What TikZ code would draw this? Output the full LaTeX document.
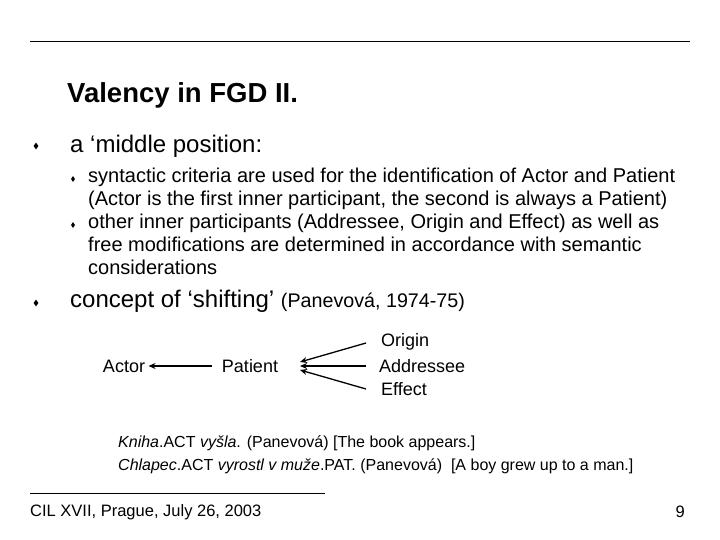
\documentclass[tikz,border=0pt]{standalone}
\usepackage{fontspec}
\setmainfont{Liberation Sans}
\usetikzlibrary{shapes.geometric,arrows.meta}
\begin{document}
\begin{tikzpicture}[x=1pt,y=-1pt,
  txt/.style={anchor=west,inner sep=0pt},
  bul/.style={diamond,fill=black,inner sep=0pt,minimum width=5pt,minimum height=7pt},
  sbul/.style={diamond,fill=black,inner sep=0pt,minimum width=4pt,minimum height=6pt},
  arr/.style={-{Stealth[length=7pt,width=6pt]},line width=1.3pt}]
\useasboundingbox (0,0) rectangle (720,540);
\draw[line width=1pt] (30,42) coordinate (tl) -- (690,42) coordinate (tr);
\draw[line width=1pt] (30,493) coordinate (bl) -- (325,493) coordinate (br);
\node[txt,font=\bfseries\fontsize{27.5}{30}\selectfont] (title) at (67,95) {Valency in FGD II.};
\node[bul] (b1) at (36,146) {};
\node[txt,font=\fontsize{24}{28}\selectfont] (t1) at (70,146) {a ‘middle position:};
\begin{scope}[font=\fontsize{20}{23}\selectfont]
\node[sbul] (s1) at (73,179) {};
\node[txt,align=left,anchor=north west] (t2) at (88,168) {syntactic criteria are used for the identification of Actor and Patient\\(Actor is the first inner participant, the second is always a Patient)};
\node[sbul] (s2) at (73,225) {};
\node[txt,align=left,anchor=north west] (t3) at (88,214) {other inner participants (Addressee, Origin and Effect) as well as\\free modifications are determined in accordance with semantic\\considerations};
\end{scope}
\node[bul] (b2) at (36,303) {};
\node[txt] (t4) at (70,301) {\fontsize{24}{28}\selectfont concept of ‘shifting’ \fontsize{19.7}{24}\selectfont(Panevová, 1974-75)};
\begin{scope}[font=\fontsize{18}{21}\selectfont]
\node (act) at (124,366) {Actor};
\node (pat) at (250,366) {Patient};
\node[txt] (ori) at (381,342) {Origin};
\node[txt] (add) at (379,366) {Addressee};
\node[txt] (eff) at (381,389) {Effect};
\end{scope}
\coordinate (p1) at (300,362);
\coordinate (p2) at (300,366);
\coordinate (p3) at (300,370);
\coordinate (o1) at (366,343);
\coordinate (a1) at (366,366);
\coordinate (e1) at (366,389);
\draw[arr] (212,366) -- (act.east);
\draw[arr] (o1) -- (p1);
\draw[arr] (a1) -- (p2);
\draw[arr] (e1) -- (p3);
\begin{scope}[font=\fontsize{16}{23}\selectfont]
\node[txt] (ex1) at (118,443) {\textit{Kniha}.ACT \textit{vyšla}. (Panevová) [The book appears.]};
\node[txt] (ex2) at (118,466) {\textit{Chlapec}.ACT \textit{vyrostl v muže}.PAT. (Panevová) \ [A boy grew up to a man.]};
\end{scope}
\node[txt,font=\fontsize{16.5}{19}\selectfont] (foot) at (30,512) {CIL XVII, Prague, July 26, 2003};
\node[font=\fontsize{16.5}{19}\selectfont,anchor=east,inner sep=0pt] (num) at (685,512) {9};
\end{tikzpicture}
\end{document}
